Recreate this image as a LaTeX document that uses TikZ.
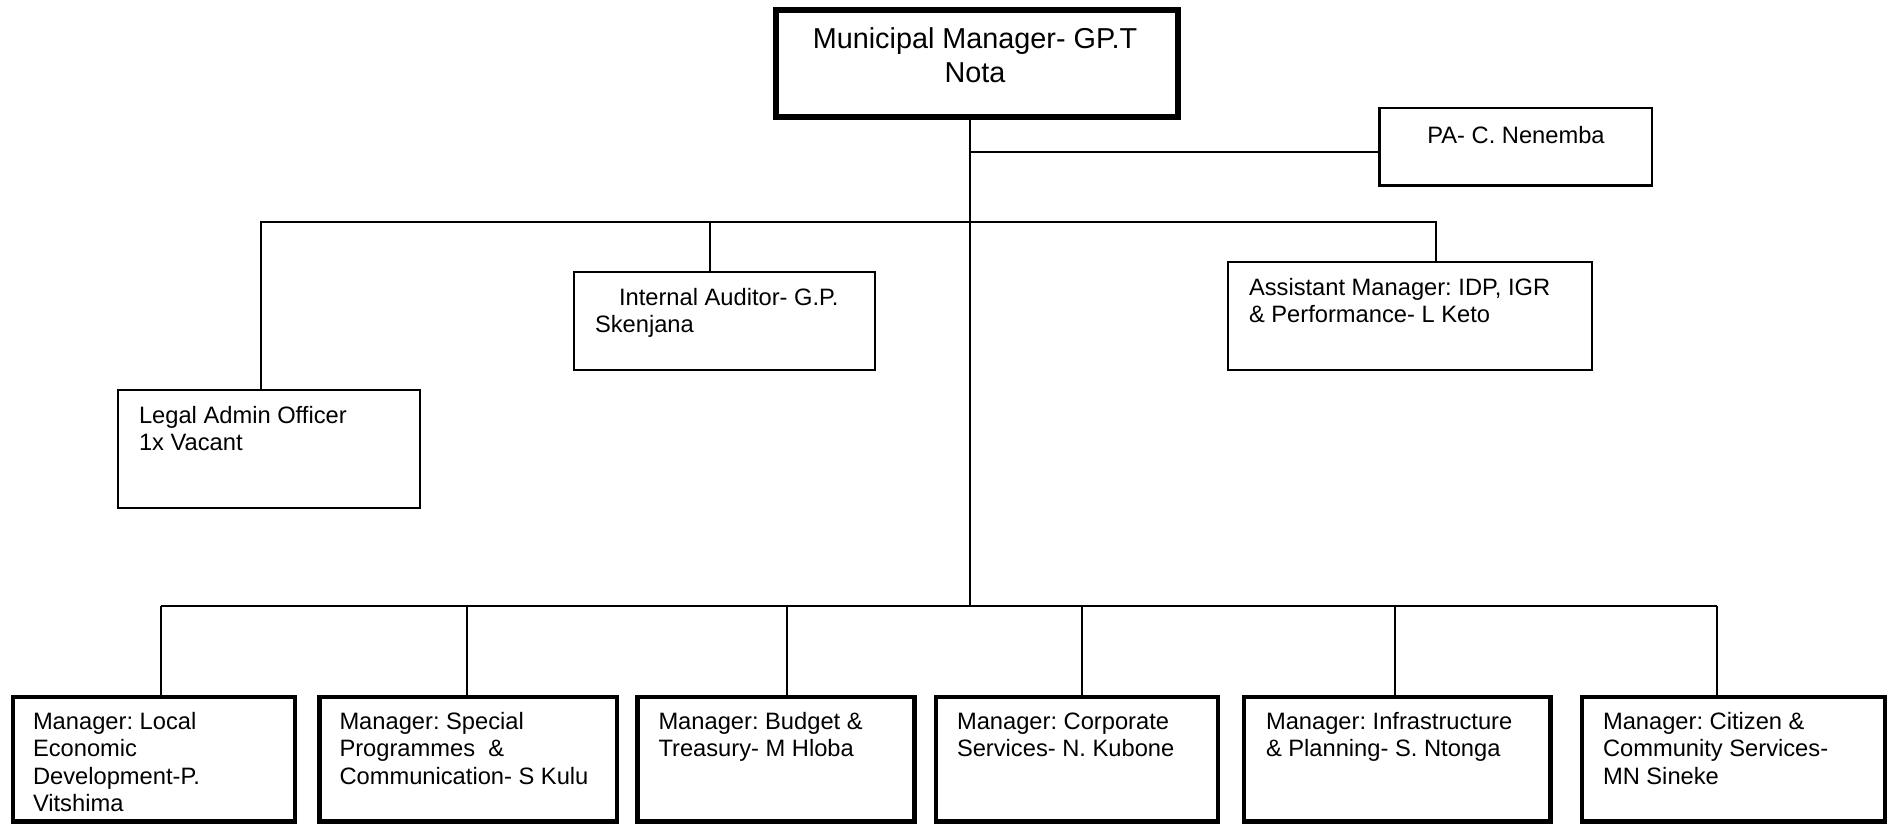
\documentclass[tikz,border=0pt]{standalone}
\usepackage{fontspec}
\setmainfont{Liberation Sans}
\usetikzlibrary{calc}
\frenchspacing

\tikzset{
  pbox/.style={draw=black, rectangle, inner sep=0pt, outer sep=0pt, fill=white},
  headbox/.style={pbox, line width=6pt},
  thinbox/.style={pbox, line width=2.2pt},
  mgrbox/.style={pbox, line width=4.5pt},
  conn/.style={draw=black, line width=1.9pt},
  % every label starts with a fixed-height strut, so the top of the label
  % lies exactly 20pt (24pt for the head) above the first baseline
  lbl/.style={inner sep=0pt, outer sep=0pt, align=left, anchor=north west,
    font=\frenchspacing\fontsize{23.7}{27.3}\selectfont,
    execute at begin node={\rule{0pt}{20pt}}},
  clbl/.style={inner sep=0pt, outer sep=0pt, align=center, anchor=north,
    font=\frenchspacing\fontsize{23.7}{27.3}\selectfont,
    execute at begin node={\rule{0pt}{20pt}}},
  headlbl/.style={inner sep=0pt, outer sep=0pt, align=center, anchor=north,
    font=\frenchspacing\fontsize{28.8}{33.4}\selectfont,
    execute at begin node={\rule{0pt}{24pt}}}
}

\begin{document}
\begin{tikzpicture}[x=1pt, y=-1pt]
  \useasboundingbox (0,0) rectangle (1888,825);

  % junction points of the connector lines
  \coordinate (trunk) at (970,606);
  \coordinate (paJ) at (970,152);
  \coordinate (m1) at (261,222);
  \coordinate (m2) at (710,222);
  \coordinate (m3) at (1436,222);
  \coordinate (q1) at (161,606);
  \coordinate (q2) at (467,606);
  \coordinate (q3) at (787,606);
  \coordinate (q4) at (1082,606);
  \coordinate (q5) at (1395,606);
  \coordinate (q6) at (1717,606);

  % boxes
  \node[headbox, minimum width=402pt, minimum height=107pt] (mm) at (977,63.5) {};
  \node[thinbox, minimum width=272.5pt, minimum height=77.5pt] (pa) at (1515.75,146.75) {};
  \node[thinbox, minimum width=301pt, minimum height=98.3pt] (aud) at (724.5,320.85) {};
  \node[thinbox, minimum width=302pt, minimum height=118pt] (legal) at (269,449) {};
  \node[thinbox, minimum width=364pt, minimum height=108.3pt] (asst) at (1410,315.85) {};

  \node[mgrbox, minimum width=282pt, minimum height=124.5pt] (b1) at (154,759.25) {};
  \node[mgrbox, minimum width=297.5pt, minimum height=124.5pt] (b2) at (468.25,759.25) {};
  \node[mgrbox, minimum width=277pt, minimum height=124.5pt] (b3) at (776,759.25) {};
  \node[mgrbox, minimum width=282pt, minimum height=124.5pt] (b4) at (1077,759.25) {};
  \node[mgrbox, minimum width=306.5pt, minimum height=124.5pt] (b5) at (1397.25,759.25) {};
  \node[mgrbox, minimum width=303pt, minimum height=124.5pt] (b6) at (1733.5,759.25) {};

  % connectors
  \draw[conn] (trunk |- mm.south) -- (trunk);
  \draw[conn] (paJ) -- (paJ -| pa.west);
  \draw[conn] (m1 |- legal.north) -- (m1) -- (m3) -- (m3 |- asst.north);
  \draw[conn] (m2) -- (m2 |- aud.north);
  \draw[conn] (q1) -- (q6);
  \foreach \i in {1,...,6} {
    \draw[conn] (q\i) -- (q\i |- b\i.north);
  }

  % texts
  \node[headlbl] (tmm) at (975,28) {Municipal Manager- GP.T\\Nota};
  \node[clbl] (tpa) at (1516,123) {PA- C. Nenemba};
  \node[lbl] (taud) at ($(aud.north west)+(21,16.5)$) {\hspace*{24pt}Internal Auditor- G.P.\\Skenjana};
  \node[lbl] (tlegal) at ($(legal.north west)+(21,16.5)$) {Legal Admin Officer\\1x Vacant};
  \node[lbl] (tasst) at ($(asst.north west)+(21,16.5)$) {Assistant Manager: IDP, IGR\\\& Performance- L Keto};

  \node[lbl] (tb1) at ($(b1.north west)+(20,15.5)$) {Manager: Local\\Economic\\Development-P.\\Vitshima};
  \node[lbl] (tb2) at ($(b2.north west)+(20,15.5)$) {Manager: Special\\Programmes\ \ \&\\Communication- S Kulu};
  \node[lbl] (tb3) at ($(b3.north west)+(21,15.5)$) {Manager: Budget \&\\Treasury- M Hloba};
  \node[lbl] (tb4) at ($(b4.north west)+(21,15.5)$) {Manager: Corporate\\Services- N. Kubone};
  \node[lbl] (tb5) at ($(b5.north west)+(22,15.5)$) {Manager: Infrastructure\\\& Planning- S. Ntonga};
  \node[lbl] (tb6) at ($(b6.north west)+(21,15.5)$) {Manager: Citizen \&\\Community Services-\\MN Sineke};
\end{tikzpicture}
\end{document}
